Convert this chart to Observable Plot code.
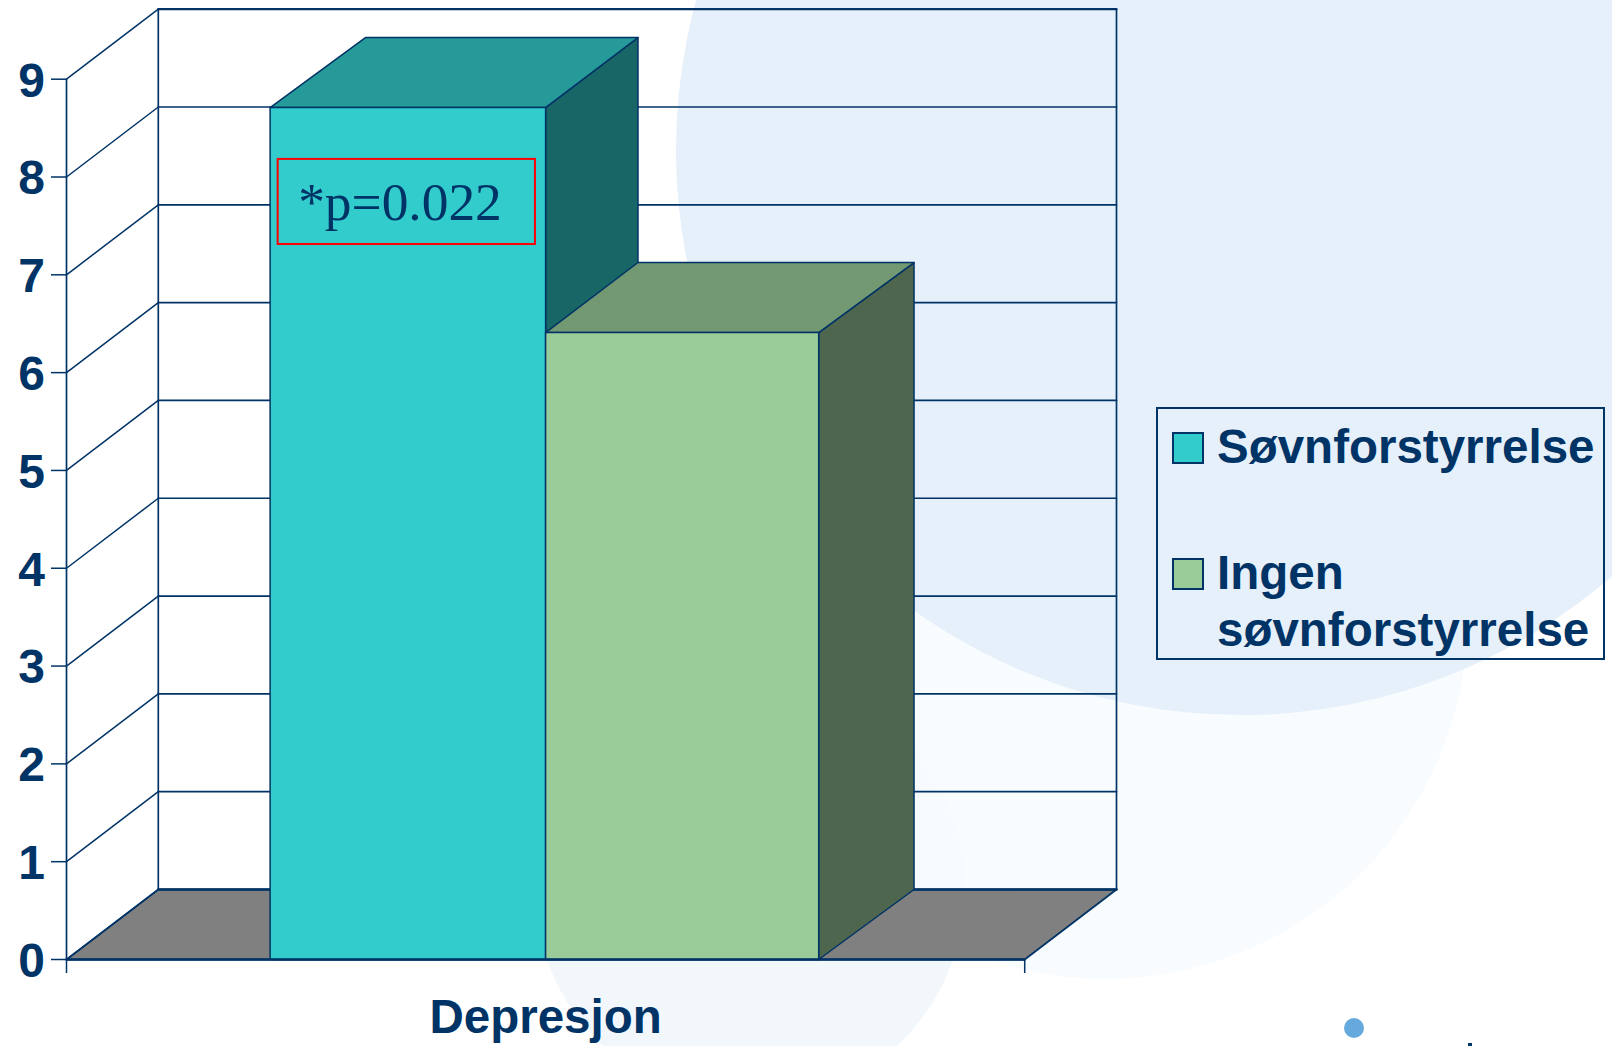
<!DOCTYPE html>
<html><head><meta charset="utf-8">
<script src="https://cdn.jsdelivr.net/npm/d3@7"></script>
<script src="https://cdn.jsdelivr.net/npm/@observablehq/plot@0.6"></script>
<style>
html,body{margin:0;padding:0;background:#fff;overflow:hidden;width:1612px;height:1046px}
#page{position:relative;width:1612px;height:1046px;overflow:hidden;font-family:"Liberation Sans",Arial,sans-serif;color:#003366}
.c{position:absolute;border-radius:50%}
#plot{position:absolute;left:0;top:0}
#legend{position:absolute;left:1156px;top:407px;width:449px;height:253px;box-sizing:border-box;border:2px solid #003366;font-weight:bold;font-size:47.5px}
.sw{position:absolute;left:14px;width:32px;height:32px;box-sizing:border-box;border:2px solid #003366}
.lt{position:absolute;left:59px;white-space:nowrap;line-height:57px}
</style></head><body>
<div id="page">
<div class="c" style="left:535px;top:674px;width:430px;height:430px;background:#F2F7FB"></div>
<div class="c" style="left:742px;top:253px;width:726px;height:726px;background:rgba(248,251,254,0.85)"></div>
<div class="c" style="left:676px;top:-415px;width:1130px;height:1130px;background:#E5F0FB"></div>
<div class="c" style="left:1344px;top:1018px;width:20px;height:20px;background:#66AADD"></div>
<div style="position:absolute;left:1468px;top:1043px;width:4px;height:3px;background:#003366"></div>
<div id="plot"></div>
<div id="legend">
<div class="sw" style="top:23px;background:#33CCCC"></div>
<div class="lt" style="top:9px">Søvnforstyrrelse</div>
<div class="sw" style="top:149px;background:#99CC99"></div>
<div class="lt" style="top:135px">Ingen<br>søvnforstyrrelse</div>
</div>
</div>
<script>
const category = "Depresjon";
const series = ["Søvnforstyrrelse", "Ingen søvnforstyrrelse"];
const values = [8.71, 6.41];
const barEdges = [0.2125, 0.5, 0.785];
const barBackEdges = [0.312, 0.5964, 0.8845];
const frontColors = ["#33CCCC", "#99CC99"];
const topColors = ["#269999", "#739973"];
const sideColors = ["#196666", "#4D664D"];
const yTicks = [0,1,2,3,4,5,6,7,8,9];
const note = "*p=0.022";

const ink = "#003366";
const wallDx = 0.0958, wallDy = 0.7157;
const poly = (pts, fill, sw = 1.5) => Plot.line(pts.map(([x, y]) => ({x, y})), {x: "x", y: "y", fill, stroke: ink, strokeWidth: sw, curve: "linear-closed"});
const seg = (x1, y1, x2, y2, sw = 1.4) => Plot.line([{x: x1, y: y1}, {x: x2, y: y2}], {x: "x", y: "y", stroke: ink, strokeWidth: sw});

const marks = [];
// floor
marks.push(poly([[0,0],[1,0],[1+wallDx,wallDy],[wallDx,wallDy]], "#808080", 1.8));
// walls and gridlines
for (const t of yTicks) {
  marks.push(seg(0, t, wallDx, t + wallDy, 1.5));
  if (t > 0) marks.push(seg(wallDx, t + wallDy, 1 + wallDx, t + wallDy, t === 9 ? 2.2 : 1.7));
}
marks.push(seg(wallDx, wallDy, 1 + wallDx, wallDy, 2.6));
marks.push(seg(wallDx, wallDy, wallDx, 9 + wallDy, 1.7));
marks.push(seg(1 + wallDx, wallDy, 1 + wallDx, 9 + wallDy, 1.7));
// bars
values.forEach((v, i) => {
  const a = barEdges[i], b = barEdges[i + 1], ba = barBackEdges[i], bb = barBackEdges[i + 1];
  marks.push(poly([[b,0],[bb,wallDy],[bb,v+wallDy],[b,v]], sideColors[i]));
  marks.push(poly([[a,v],[b,v],[bb,v+wallDy],[ba,v+wallDy]], topColors[i]));
  marks.push(poly([[a,0],[b,0],[b,v],[a,v]], frontColors[i]));
});
// front baseline
marks.push(seg(0, 0, 1, 0, 2.4));
// annotation
marks.push(Plot.rect([{x1:0.2209,x2:0.4894,y1:7.31,y2:8.18}], {x1:"x1",x2:"x2",y1:"y1",y2:"y2",fill:"none",stroke:"#FF0000",strokeWidth:2}));
marks.push(Plot.text([note], {x: () => 0.348, y: () => 7.735, text: d => d, fontSize: 53.4, fontFamily: '"Liberation Serif","Times New Roman",serif', fill: ink}));
// axes
marks.push(Plot.ruleX([0], {y1: 0, y2: 9, stroke: ink, strokeWidth: 1.7}));
marks.push(Plot.axisY({ticks: yTicks, tickSize: 15, tickFormat: () => "", color: ink, strokeWidth: 1.5, label: null}));
marks.push(Plot.axisY({ticks: yTicks, tickSize: 0, tickPadding: 21.5, dy: 2, tickFormat: d3.format("d"), fontSize: 48, fontWeight: "bold", color: ink, label: null}));
marks.push(Plot.axisX({ticks: [0, 1], tickSize: 14, tickFormat: () => "", color: ink, strokeWidth: 1.5, label: null}));
marks.push(Plot.axisX({ticks: [barEdges[1]], tickSize: 0, tickPadding: 40, tickFormat: () => category, fontSize: 47.5, fontWeight: "bold", color: ink, label: null}));

const chart = Plot.plot({
  width: 1612, height: 1046,
  marginLeft: 66, marginRight: 587.8, marginTop: 78.7, marginBottom: 87,
  x: {type: "linear", domain: [0, 1]},
  y: {type: "linear", domain: [0, 9]},
  style: {background: "transparent", fontFamily: '"Liberation Sans",Arial,sans-serif', overflow: "visible"},
  marks
});
document.getElementById("plot").append(chart);
</script>
</body></html>
